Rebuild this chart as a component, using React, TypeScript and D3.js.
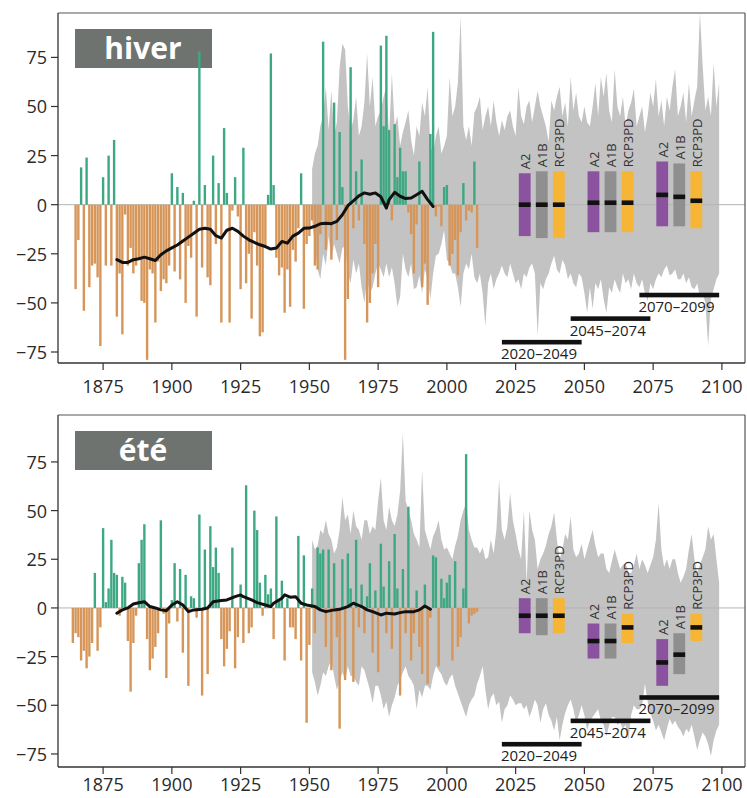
import React from "react";
import * as d3 from "d3";

// Yearly precipitation anomalies (%), winter from 1865, summer from 1864
const winterStart = 1865;
const winterValues = [
  -43, -18, 19, -54, 24, -42, -31, -30, -37, -72,
  14, -31, 25, -31, 33, -57, -35, -66, -5, -31,
  -22, -35, -31, -28, -49, -50, -79, -33, -35, -60,
  -29, -44, -38, -40, -31, 16, -34, 9, -38, 6,
  -50, -21, -27, 2, -57, 78, -32, 10, -37, -41,
  25, -20, 11, -60, 39, 6, -60, -3, 14, -6,
  -43, 29, -40, -25, -58, -14, -31, -67, -65, -22,
  5, 77, 10, -27, -36, -32, -55, -33, -52, -23,
  -29, -12, 16, -53, -20, -16, -8, -31, -33, -15,
  83, -23, -10, -28, 52, -18, 37, 9, -79, -48,
  70, -12, 17, -8, 23, -20, -60, -50, -35, -20,
  -42, 81, 40, 86, 38, -8, 41, 14, 29, 17,
  17, -4, -15, -35, -10, 22, -42, -30, -51, 36,
  88, -6, -1, -11, 9, 10, -31, -25, -18, -36,
  -14, 11, -8, -3, -4, 22, -22,
];

const summerStart = 1864;
const summerValues = [
  -18, -13, -15, -27, -22, -31, -25, -18, 18, -22,
  -10, 41, 3, 10, 35, 18, 17, -4, 16, 13,
  -17, -43, -18, -4, 23, 35, 43, -16, -32, -26,
  -20, -13, 45, -3, -36, -8, 4, 23, -7, 20,
  -23, 17, -40, 6, 5, -5, 48, -45, 30, -34,
  42, 21, 31, 18, -16, -30, -21, -12, 31, -31,
  -15, 12, -18, 63, -13, -10, 50, 40, 13, -4,
  17, 7, 10, -16, 47, 4, 14, -27, 5, -10,
  -10, -16, 37, -27, 27, -59, -19, 10, -13, 31,
  28, 30, -20, 30, -32, 23, -15, -62, 25, -37,
  28, 10, -38, 35, -10, 12, -13, 6, 23, -23,
  9, -33, 33, 11, -13, 24, -21, 38, 10, -45,
  20, -13, 52, -27, -13, 9, -20, -34, 12, -39,
  -5, 27, 26, -30, 15, 5, 13, 17, -27, 24,
  -20, -15, 10, 79, -8, -4, -3, -2,
];

// Simulated range (upper / lower envelope), yearly from 1951 to 2099
const bandStart = 1951;
const winterBandHigh = [
  18, 26, 30, 40, 45, 60, 38, 58, 35, 42,
  70, 82, 79, 50, 38, 43, 55, 35, 40, 52,
  77, 50, 65, 40, 45, 48, 55, 60, 35, 67,
  40, 45, 30, 37, 42, 48, 33, 25, 40, 35,
  52, 45, 60, 30, 26, 35, 40, 26, 30, 35,
  65, 45, 50, 62, 96, 40, 33, 40, 30, 47,
  50, 55, 38, 45, 50, 40, 53, 42, 35, 43,
  38, 45, 48, 40, 35, 60, 45, 41, 50, 53,
  42, 50, 58, 50, 45, 40, 32, 53, 48, 55,
  60, 45, 52, 40, 65, 48, 57, 45, 42, 50,
  42, 40, 50, 62, 45, 65, 55, 67, 48, 42,
  69, 50, 45, 55, 40, 48, 52, 59, 40, 45,
  50, 37, 45, 57, 50, 64, 45, 53, 40, 55,
  48, 60, 69, 45, 50, 57, 42, 62, 45, 53,
  60, 98, 71, 48, 55, 45, 72, 50, 62,
];
const winterBandLow = [
  -8, -20, -33, -38, -25, -31, -16, -28, -20, -25,
  -30, -22, -21, -35, -40, -28, -35, -30, -42, -50,
  -38, -45, -42, -35, -30, -33, -37, -30, -37, -32,
  -40, -52, -47, -25, -33, -37, -30, -43, -42, -36,
  -45, -33, -38, -48, -35, -26, -25, -20, -13, -28,
  -30, -35, -35, -42, -52, -35, -30, -33, -25, -37,
  -40, -35, -45, -62, -40, -35, -43, -38, -35, -31,
  -35, -37, -30, -35, -40, -38, -43, -35, -37, -32,
  -30, -35, -67, -40, -43, -38, -35, -30, -26, -33,
  -35, -28, -31, -38, -35, -40, -42, -35, -37, -45,
  -55, -42, -53, -40, -43, -38, -48, -55, -42, -45,
  -38, -42, -45, -35, -40, -38, -43, -35, -40, -42,
  -38, -45, -49, -40, -43, -38, -35, -37, -33, -31,
  -36, -35, -33, -38, -38, -35, -40, -37, -42, -43,
  -40, -47, -45, -50, -72, -48, -43, -38, -35,
];
const summerBandHigh = [
  35, 30, 32, 40, 38, 45, 38, 35, 28, 31,
  40, 57, 45, 48, 38, 50, 42, 40, 35, 45,
  45, 38, 42, 40, 55, 67, 45, 40, 52, 45,
  42, 48, 60, 90, 55, 50, 45, 38, 35, 31,
  71, 40, 35, 30, 37, 40, 45, 35, 30, 31,
  28, 25, 32, 37, 45, 50, 54, 40, 35, 31,
  31, 28, 31, 25, 26, 35, 28, 40, 66, 40,
  35, 42, 59, 45, 38, 30, 25, 50, 13, 50,
  40, 35, 20, 25, 28, 32, 38, 42, 49, 35,
  25, 30, 38, 35, 47, 30, 26, 28, 33, 25,
  30, 35, 40, 32, 26, 28, 28, 20, 18, 24,
  30, 25, 20, 22, 23, 18, 18, 22, 28, 20,
  25, 22, 18, 22, 26, 35, 54, 30, 21, 25,
  20, 25, 25, 18, 13, 16, 20, 30, 38, 25,
  18, 22, 26, 30, 42, 35, 38, 25, 13,
];
const summerBandLow = [
  -33, -38, -45, -40, -33, -35, -30, -27, -35, -42,
  -38, -33, -37, -30, -35, -35, -38, -40, -30, -32,
  -37, -42, -49, -40, -40, -45, -52, -48, -56, -50,
  -46, -40, -37, -33, -30, -35, -37, -40, -52, -42,
  -46, -40, -40, -42, -35, -30, -32, -34, -38, -40,
  -36, -34, -40, -44, -48, -52, -56, -50, -47, -45,
  -39, -35, -30, -42, -52, -46, -44, -50, -48, -59,
  -52, -50, -45, -47, -50, -49, -49, -52, -50, -56,
  -52, -47, -50, -59, -52, -49, -55, -58, -63, -56,
  -68, -60, -54, -50, -47, -52, -59, -55, -50, -55,
  -63, -58, -56, -54, -52, -58, -60, -66, -60, -56,
  -56, -60, -59, -62, -60, -68, -55, -50, -52, -52,
  -50, -39, -48, -54, -58, -63, -60, -64, -68, -62,
  -57, -60, -58, -61, -63, -66, -62, -64, -60, -66,
  -73, -68, -64, -66, -70, -76, -68, -63, -60,
];

// Smoothed observed series
const winterTrendYears = [
  1880, 1882, 1884, 1886, 1888, 1890, 1892, 1894, 1896, 1898, 1900, 1902, 1904, 1906,
  1908, 1910, 1912, 1914, 1916, 1918, 1920, 1922, 1924, 1926, 1928, 1930, 1932, 1934,
  1936, 1938, 1940, 1942, 1944, 1946, 1948, 1950, 1952, 1954, 1956, 1958, 1960, 1962,
  1964, 1966, 1968, 1970, 1972, 1974, 1976, 1978, 1979, 1981, 1983, 1985, 1987, 1989,
  1991, 1993, 1995,
];
const winterTrendValues = [
  -28, -29.4, -29.4, -28, -27.5, -26.7, -27.5, -28.4, -25.5, -23.5, -22, -20.5, -18.5, -16.5,
  -14.5, -12.5, -12, -12.5, -15.8, -17, -13, -12, -13.6, -16, -17.9, -19.2, -20.4, -21.3,
  -22.6, -22.1, -18.7, -19.6, -16, -14.5, -12, -11.9, -11, -9.7, -9.4, -9.7, -8.5, -5.1,
  -0.5, 2, 4.5, 6, 5.3, 6, 4, -1.7, 2.6, 6.3, 4.3, 3.1, 3.4, 5.1,
  6.8, 2.6, -0.9,
];
const summerTrendYears = [
  1880, 1882, 1884, 1886, 1888, 1890, 1892, 1894, 1896, 1898, 1900, 1902, 1904, 1906,
  1908, 1911, 1913, 1915, 1918, 1920, 1923, 1925, 1926, 1929, 1931, 1934, 1936, 1937,
  1940, 1941, 1943, 1945, 1947, 1949, 1952, 1954, 1956, 1959, 1961, 1964, 1966, 1969,
  1971, 1973, 1976, 1978, 1981, 1983, 1985, 1988, 1990, 1992, 1994,
];
const summerTrendValues = [
  -2.7, -1, 0, 2, 2.7, 3.2, 0.7, 0, -1, -1.4, 1.5, 3.2, 1.5, -1.9,
  -1, -0.7, 0, 3.2, 3.8, 4.1, 5.8, 6.7, 5.8, 4.1, 2.7, 1.5, 0.7, 2.4,
  5, 6.7, 5.5, 5.8, 2.4, 1.5, 0.7, -1, -1.9, -1, -0.7, 0.7, 2.4, 0.7,
  -1, -1.9, -3.6, -2.7, -3.1, -2.4, -1.9, -1.9, -1, 1, -0.7,
];

// Scenario projections per period: [A2, A1B, RCP3PD]
const scenarioNames = ["A2", "A1B", "RCP3PD"];
const periodStarts = [2020, 2045, 2070];
const periodEnds = [2049, 2074, 2099];
const periodBarLevels = [-70, -58, -46];

const winterBoxLow = [[-16, -17, -17], [-14, -14, -14], [-11, -11, -12]];
const winterBoxMid = [[0, 0, 0], [1, 1, 1], [5, 4, 2]];
const winterBoxHigh = [[16, 17, 17], [17, 17, 17], [22, 21, 17]];
const summerBoxLow = [[-13, -14, -13], [-26, -26, -18], [-40, -34, -17]];
const summerBoxMid = [[-4, -4, -4], [-17, -17, -10], [-28, -24, -10]];
const summerBoxHigh = [[5, 5, 5], [-8, -8, -3], [-16, -13, -3]];

const xTicks = [1875, 1900, 1925, 1950, 1975, 2000, 2025, 2050, 2075, 2100];
const yTicks = [-75, -50, -25, 0, 25, 50, 75];

const FONT = "'Open Sans', 'DejaVu Sans', sans-serif";
const COLORS = {
  pos: "#3ea883",
  neg: "#d6965a",
  band: "#c3c3c3",
  scen: ["#8b529f", "#8f8f8f", "#f6b534"],
  title: "#6e7370",
};

const LEFT = 58;
const RIGHT = 745;
const x = d3.scaleLinear().domain([1858.6, 2108.4]).range([LEFT, RIGHT]);

type PanelProps = {
  top: number;
  bottom: number;
  labelOffset: number;
  domain: [number, number];
  title: string;
  start: number;
  values: number[];
  bandHigh: number[];
  bandLow: number[];
  trendYears: number[];
  trendValues: number[];
  boxLow: number[][];
  boxMid: number[][];
  boxHigh: number[][];
};

function Panel(p: PanelProps) {
  const y = d3.scaleLinear().domain(p.domain).range([p.bottom, p.top]);
  const bandYears = p.bandHigh.map((_, i) => bandStart + i);
  const area = d3
    .area<number>()
    .x((d) => x(d))
    .y0((_, i) => y(p.bandLow[i]))
    .y1((_, i) => y(p.bandHigh[i]));
  const line = d3
    .line<number>()
    .x((d) => x(d))
    .y((_, i) => y(p.trendValues[i]))
    .curve(d3.curveLinear);
  const barW = 2.4;
  const boxW = 11.8;
  const offsets = [-6.2, 0, 6.2];

  return (
    <g>
      {/* season label sits underneath the bars */}
      <rect x={75} y={p.top + 16} width={137} height={39} fill={COLORS.title} />
      <text
        x={143}
        y={p.top + 16 + 30}
        textAnchor="middle"
        fontFamily={FONT}
        fontWeight={700}
        fontSize={30}
        fill="#fff"
      >
        {p.title}
      </text>
      <path d={area(bandYears) || ""} fill={COLORS.band} />
      <line x1={LEFT} x2={RIGHT} y1={y(0)} y2={y(0)} stroke="#b4b4b4" strokeWidth={1} />
      {p.values.map((v, i) => {
        const yr = p.start + i;
        const y0 = y(0);
        const yv = y(v);
        return (
          <rect
            key={yr}
            x={x(yr) - barW / 2}
            y={Math.min(y0, yv)}
            width={barW}
            height={Math.abs(yv - y0)}
            fill={v >= 0 ? COLORS.pos : COLORS.neg}
          />
        );
      })}
      <path
        d={line(p.trendYears) || ""}
        fill="none"
        stroke="#111"
        strokeWidth={3}
        strokeLinejoin="round"
        strokeLinecap="round"
      />
      {periodStarts.map((ps, pi) => {
        const mid = (ps + periodEnds[pi]) / 2;
        return (
          <g key={ps}>
            {scenarioNames.map((name, si) => {
              const cx = x(mid + offsets[si]);
              const hi = y(p.boxHigh[pi][si]);
              const lo = y(p.boxLow[pi][si]);
              const md = y(p.boxMid[pi][si]);
              return (
                <g key={name}>
                  <rect x={cx - boxW / 2} y={hi} width={boxW} height={lo - hi} fill={COLORS.scen[si]} />
                  <rect x={cx - boxW / 2} y={md - 2.3} width={boxW} height={4.6} fill="#111" />
                  <text
                    transform={`translate(${cx + 0.5},${hi - 4}) rotate(-90)`}
                    dominantBaseline="central"
                    fontFamily={FONT}
                    fontSize={13}
                    fill="#333"
                  >
                    {name}
                  </text>
                </g>
              );
            })}
            <rect
              x={x(ps)}
              y={y(periodBarLevels[pi]) - 2.3}
              width={x(periodEnds[pi]) - x(ps)}
              height={4.6}
              fill="#111"
            />
            <text
              x={x(ps) - 1}
              y={y(periodBarLevels[pi]) + 17}
              fontFamily={FONT}
              fontSize={15}
              fill="#222"
            >
              {`${ps}–${periodEnds[pi]}`}
            </text>
          </g>
        );
      })}
      {/* frame */}
      <line x1={LEFT} x2={RIGHT} y1={p.top} y2={p.top} stroke="#555" strokeWidth={1.2} />
      <line x1={RIGHT} x2={RIGHT} y1={p.top} y2={p.bottom} stroke="#555" strokeWidth={1.2} />
      <line x1={LEFT} x2={LEFT} y1={p.top} y2={p.bottom} stroke="#333" strokeWidth={1.3} />
      <line x1={LEFT} x2={RIGHT} y1={p.bottom} y2={p.bottom} stroke="#333" strokeWidth={1.3} />
      {yTicks.map((t) => (
        <g key={t}>
          <line x1={LEFT - 7} x2={LEFT} y1={y(t)} y2={y(t)} stroke="#333" strokeWidth={1.2} />
          <text
            x={LEFT - 11}
            y={y(t)}
            textAnchor="end"
            dominantBaseline="central"
            fontFamily={FONT}
            fontSize={18}
            fill="#2a2a2a"
          >
            {t < 0 ? `−${Math.abs(t)}` : `${t}`}
          </text>
        </g>
      ))}
      {xTicks.map((t) => (
        <g key={t}>
          <line x1={x(t)} x2={x(t)} y1={p.bottom} y2={p.bottom + 7} stroke="#333" strokeWidth={1.2} />
          <text
            x={x(t)}
            y={p.bottom + p.labelOffset}
            textAnchor="middle"
            fontFamily={FONT}
            fontSize={18}
            fill="#2a2a2a"
          >
            {t}
          </text>
        </g>
      ))}
    </g>
  );
}

export default function App() {
  return (
    <svg
      width={747}
      height={798}
      style={{ position: "absolute", left: 0, top: 0, background: "#fff" }}
    >
      <Panel
        top={13}
        bottom={363}
        labelOffset={30}
        domain={[-80.6, 97.6]}
        title="hiver"
        start={winterStart}
        values={winterValues}
        bandHigh={winterBandHigh}
        bandLow={winterBandLow}
        trendYears={winterTrendYears}
        trendValues={winterTrendValues}
        boxLow={winterBoxLow}
        boxMid={winterBoxMid}
        boxHigh={winterBoxHigh}
      />
      <Panel
        top={415}
        bottom={767}
        labelOffset={24}
        domain={[-81.7, 99.1]}
        title="été"
        start={summerStart}
        values={summerValues}
        bandHigh={summerBandHigh}
        bandLow={summerBandLow}
        trendYears={summerTrendYears}
        trendValues={summerTrendValues}
        boxLow={summerBoxLow}
        boxMid={summerBoxMid}
        boxHigh={summerBoxHigh}
      />
    </svg>
  );
}
